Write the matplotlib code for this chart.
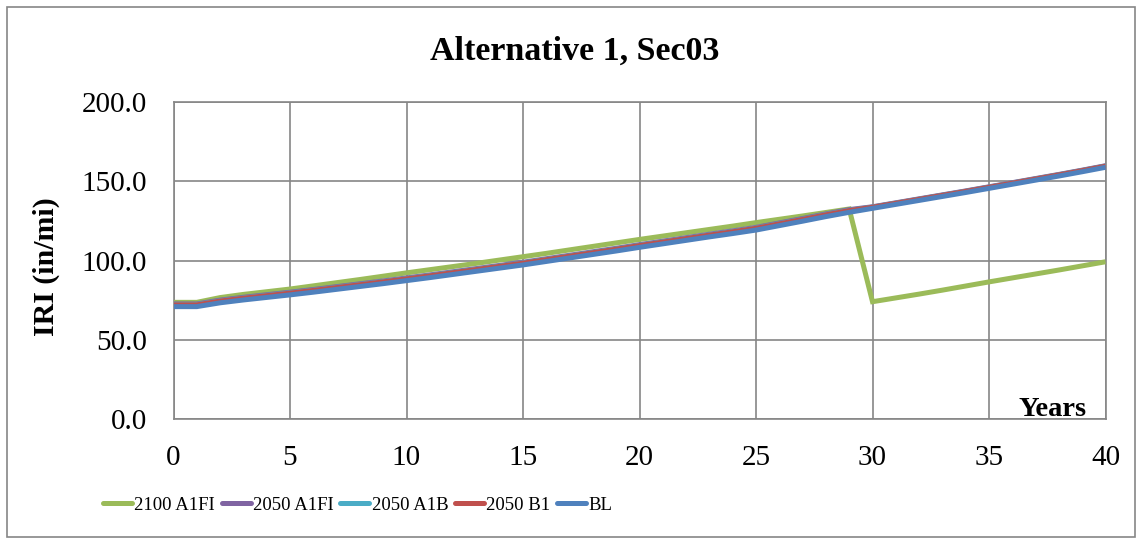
import matplotlib
matplotlib.use("Agg")
import matplotlib.pyplot as plt
from matplotlib.patches import Rectangle

# Analysis years
years = list(range(0, 41))

# IRI (in/mi) predictions for each climate scenario
iri_2100_a1fi = [73.6, 73.6, 76.6, 78.6, 80.3, 82.0, 84.0, 86.0, 88.0, 90.1,
                 92.2, 94.2, 96.2, 98.2, 100.3, 102.4, 104.5, 106.7, 108.9, 111.1,
                 113.3, 115.4, 117.5, 119.6, 121.7, 123.9, 126.0, 128.1, 130.3, 132.5,
                 74.0, 76.4, 78.8, 81.3, 83.9, 86.5, 89.0, 91.5, 94.0, 96.6, 99.2]
iri_2050_a1fi = [72.6, 72.6, 75.0, 76.8, 78.4, 80.0, 81.7, 83.5, 85.3, 87.1,
                 89.0, 90.9, 92.9, 94.9, 96.9, 98.9, 101.1, 103.3, 105.5, 107.7,
                 110.0, 112.2, 114.4, 116.6, 118.7, 120.9, 123.7, 126.5, 129.4, 132.1,
                 133.9, 136.4, 138.9, 141.4, 143.9, 146.5, 149.1, 151.7, 154.3, 157.0, 159.8]
iri_2050_a1b = [72.2, 72.2, 74.6, 76.4, 78.0, 79.6, 81.3, 83.1, 84.9, 86.7,
                88.6, 90.5, 92.5, 94.5, 96.5, 98.5, 100.7, 102.9, 105.1, 107.3,
                109.6, 111.8, 114.0, 116.2, 118.3, 120.5, 123.3, 126.1, 129.0, 131.7,
                133.7, 136.2, 138.7, 141.2, 143.7, 146.3, 148.9, 151.5, 154.1, 156.8, 159.6]
iri_2050_b1 = [72.0, 72.0, 74.4, 76.2, 77.8, 79.4, 81.1, 82.9, 84.7, 86.5,
               88.4, 90.3, 92.3, 94.3, 96.3, 98.3, 100.5, 102.7, 104.9, 107.1,
               109.4, 111.6, 113.8, 116.0, 118.1, 120.3, 123.1, 125.9, 128.8, 131.5,
               133.6, 136.1, 138.6, 141.1, 143.6, 146.2, 148.8, 151.4, 154.0, 156.7, 159.5]
iri_bl = [70.9, 70.9, 73.3, 75.1, 76.7, 78.3, 80.0, 81.8, 83.6, 85.4,
          87.3, 89.2, 91.2, 93.2, 95.2, 97.2, 99.4, 101.6, 103.8, 106.0,
          108.3, 110.5, 112.7, 114.9, 117.0, 119.2, 122.0, 124.8, 127.7, 130.4,
          132.9, 135.4, 137.9, 140.4, 142.9, 145.5, 148.1, 150.7, 153.3, 156.0, 158.8]

series_names = ["2100 A1FI", "2050 A1FI", "2050 A1B", "2050 B1", "BL"]
series_values = [iri_2100_a1fi, iri_2050_a1fi, iri_2050_a1b, iri_2050_b1, iri_bl]
series_colors = ["#9BBB59", "#8064A2", "#4BACC6", "#C0504D", "#4F81BD"]

x_ticks = [0, 5, 10, 15, 20, 25, 30, 35, 40]
y_ticks = [0, 50, 100, 150, 200]

W, H = 1141, 541
plt.rcParams["font.family"] = ["Liberation Serif", "DejaVu Serif"]
fig = plt.figure(figsize=(W / 100, H / 100), dpi=100)
fig.patch.set_facecolor("white")

grid_gray = "#868686"
ax = fig.add_axes([173.5 / W, 1 - 419 / H, (1105.5 - 173.5) / W, (419 - 102) / H])

for name, vals, col in zip(series_names, series_values, series_colors):
    ax.plot(years, vals, color=col, lw=3.6, label=name, solid_capstyle="butt",
            solid_joinstyle="miter", zorder=3)

ax.set_xlim(0, 40)
ax.set_ylim(0, 200)
ax.set_xticks(x_ticks)
ax.set_yticks(y_ticks)
ax.set_xticklabels([str(t) for t in x_ticks])
ax.set_yticklabels([f"{t:.1f}" for t in y_ticks])
ax.tick_params(axis="both", length=0, labelsize=21, colors="black")
ax.tick_params(axis="y", pad=19)
ax.tick_params(axis="x", pad=19)
ax.grid(True, color=grid_gray, lw=1.2)
ax.set_axisbelow(True)
for sp in ax.spines.values():
    sp.set_color(grid_gray)
    sp.set_linewidth(1.2)

# Title, axis labels
fig.text(575 / W, 1 - 60 / H, "Alternative 1, Sec03", ha="center", va="baseline",
         fontsize=24.5, fontweight="bold")
fig.text(46 / W, 1 - 267 / H, "IRI (in/mi)", ha="center", va="center", rotation=90,
         fontsize=21.5, fontweight="bold")
fig.text(1053 / W, 1 - 416.5 / H, "Years", ha="center", va="baseline",
         fontsize=20.5, fontweight="bold")

# Legend below the plot
leg = fig.legend(loc="center", bbox_to_anchor=(357.5 / W, 1 - 505 / H), ncol=5,
                 frameon=False, fontsize=13.5, handlelength=1.55, handletextpad=0.12,
                 columnspacing=0.35, borderpad=0, borderaxespad=0)
for line in leg.get_lines():
    line.set_linewidth(3.6)
    line.set_solid_capstyle("round")

# Chart-area border
fig.patches.append(Rectangle((7 / W, 1 - 537 / H), (1135 - 7) / W, (537 - 7) / H,
                             transform=fig.transFigure, fill=False,
                             edgecolor=grid_gray, lw=1.2))

fig.savefig("out.png", dpi=100)
